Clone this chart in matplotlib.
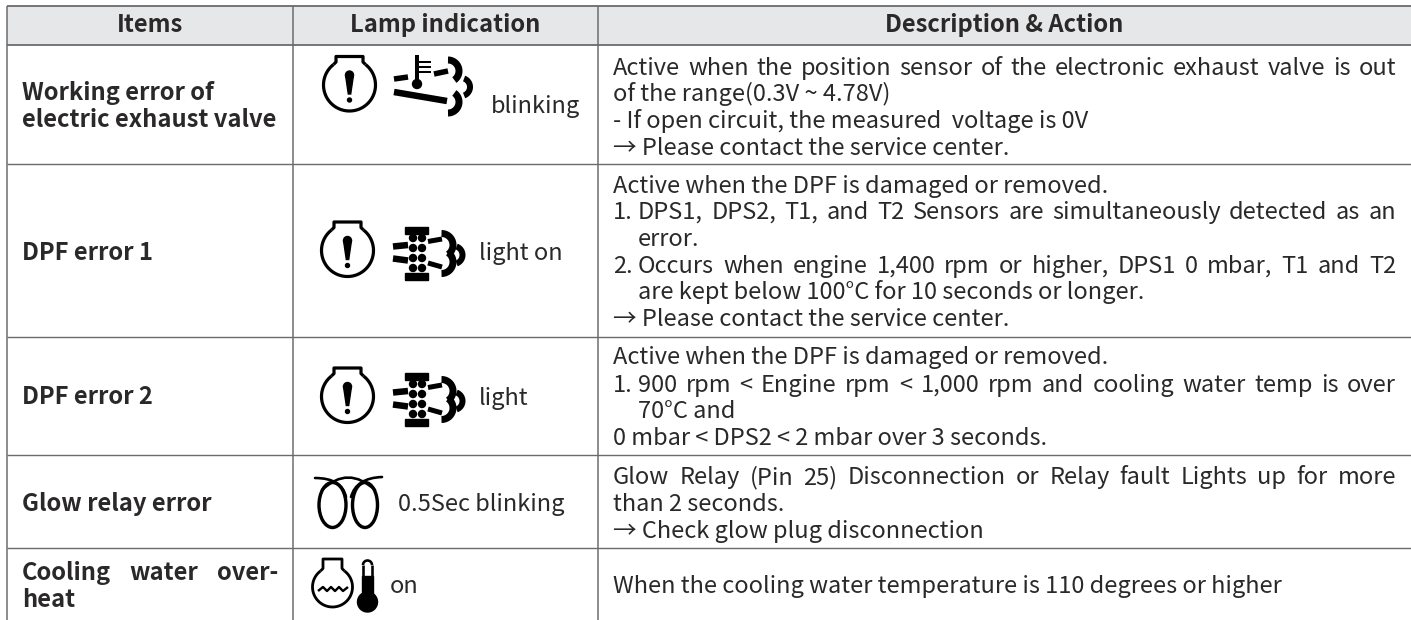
import numpy as np
import matplotlib
matplotlib.use("Agg")
import matplotlib.pyplot as plt
from matplotlib.patches import Rectangle, Circle, Ellipse, PathPatch
from matplotlib.path import Path

plt.rcParams['font.family'] = ['Noto Sans CJK KR', 'DejaVu Sans']

HEADERS = ["Items", "Lamp indication", "Description & Action"]
ITEMS = [("Working error of", 100), ("electric exhaust valve", 127), ("DPF error 1", 260),
         ("DPF error 2", 404), ("Glow relay error", 511), ("heat", 607)]
LAMP = [("blinking", 491, 113), ("light on", 479, 260), ("light", 479, 405),
        ("0.5Sec blinking", 398, 511), ("on", 390, 593)]
DESC = [
    ("Active when the position sensor of the electronic exhaust valve is out", True, 75, None, False),
    ("of the range(0.3V ~ 4.78V)", False, 101, None, False),
    ("- If open circuit, the measured  voltage is 0V", False, 128, None, False),
    ("→ Please contact the service center.", False, 155, None, False),
    ("Active when the DPF is damaged or removed.", False, 193, None, False),
    ("DPS1, DPS2, T1, and T2 Sensors are simultaneously detected as an", True, 219, "1.", False),
    ("error.", False, 246, None, True),
    ("Occurs when engine 1,400 rpm or higher, DPS1 0 mbar, T1 and T2", True, 273, "2.", False),
    ("are kept below 100°C for 10 seconds or longer.", False, 299, None, True),
    ("→ Please contact the service center.", False, 326, None, False),
    ("Active when the DPF is damaged or removed.", False, 364, None, False),
    ("900 rpm < Engine rpm < 1,000 rpm and cooling water temp is over", True, 392, "1.", False),
    ("70°C and", False, 418, None, True),
    ("0 mbar < DPS2 < 2 mbar over 3 seconds.", False, 445, None, False),
    ("Glow Relay (Pin 25) Disconnection or Relay fault Lights up for more", True, 484, None, False),
    ("than 2 seconds.", False, 511, None, False),
    ("→ Check glow plug disconnection", False, 538, None, False),
    ("When the cooling water temperature is 110 degrees or higher", False, 593, None, False),
]
COL_X = [7, 293, 597.5]
ROW_Y = [5.5, 44.5, 163.5, 336.5, 455, 548]

W, H = 1411, 620
INK = "#2a2829"
LINE = "#6a6b6d"
HEAD = "#e6e7e8"
FS = 17.0
FSB = 17.1

fig = plt.figure(figsize=(W / 100, H / 100), dpi=100)
ax = fig.add_axes([0, 0, 1, 1])
ax.set_xlim(0, W)
ax.set_ylim(H, 0)
ax.axis("off")
rend = fig.canvas.get_renderer()


def txt(x, y, s, **kw):
    kw.setdefault("fontsize", FS)
    kw.setdefault("color", INK)
    return ax.text(x, y, s, va="baseline", **kw)


def justified(x0, x1, y, s, **kw):
    words = s.split()
    ts = [txt(x0, y, w, **kw) for w in words]
    widths = [t.get_window_extent(rend).width for t in ts]
    gap = (x1 - x0 - sum(widths)) / (len(words) - 1)
    x = x0
    for t, w in zip(ts, widths):
        t.set_x(x)
        x += w + gap


def stroke(xs, ys, w, color="black", cap="butt"):
    ax.plot(xs, ys, color=color, lw=w * 0.72, solid_capstyle=cap, solid_joinstyle="round")


def arc(cx, cy, r, a0, a1, w):
    t = np.radians(np.linspace(a0, a1, 60))
    stroke(cx + r * np.cos(t), cy + r * np.sin(t), w)


def bulb(cx, cy, r, nw, top, w):
    """Round lamp body with a straight neck on top."""
    sx = nw + 2.5
    sy = np.sqrt(r * r - sx * sx)
    a = np.degrees(np.arctan2(sy, sx))
    arc(cx, cy, r, -a, 180 + a, w)
    stroke([cx - sx, cx - nw, cx - nw, cx + nw, cx + nw, cx + sx],
           [cy - sy, cy - sy - 2.5, top, top, cy - sy - 2.5, cy - sy], w)


def engine(cx, cy):
    bulb(cx, cy, 26, 13.5, cy - 28.5, 3.2)
    ax.fill([cx - 4, cx + 4, cx + 1.2, cx - 1.2], [cy - 10, cy - 10, cy + 9, cy + 9], color="black", zorder=3)
    ax.add_patch(Circle((cx, cy - 10), 4, color="black", zorder=3))
    ax.add_patch(Circle((cx, cy + 15), 2, color="black", zorder=3))


def clouds(c1, c2, c3, r1, r2, w1, w2):
    arc(c1[0], c1[1], r1, -90, 55, w1)
    arc(c2[0], c2[1], r2, -70, 70, w2)
    arc(c3[0], c3[1], r1, -55, 90, w1)


def exhaust_temp():
    stroke([394, 408], [79, 77], 5.5)
    stroke([434, 448], [74, 71], 5.5)
    stroke([394, 447], [92, 101], 6.5)
    stroke([417, 417], [55, 84], 4)
    ax.add_patch(Circle((417, 84), 4.5, color="black"))
    for yy in (62, 67, 72):
        stroke([419, 431], [yy, yy], 2)
    clouds((448, 71), (461, 87), (448, 102), 11, 9, 7, 6)


def dpf(dy):
    ax.add_patch(Rectangle((405, 373 + dy), 23, 7, color="black"))
    ax.add_patch(Rectangle((405, 419 + dy), 23, 7, color="black"))
    for yy in (384, 394, 404, 414):
        for xx in (413, 422):
            ax.add_patch(Circle((xx, yy + dy), 3.5, color="black"))
    stroke([393, 408], [392.5 + dy, 391 + dy], 6.5)
    stroke([393, 408], [404.5 + dy, 406.5 + dy], 6.5)
    stroke([428, 442], [387.5 + dy, 385 + dy], 5)
    stroke([428, 442], [409 + dy, 413 + dy], 5)
    clouds((441.5, 391 + dy), (453.5, 401 + dy), (441.5, 408 + dy), 11.5, 9, 7, 6)


def coil():
    ax.add_patch(Ellipse((332.5, 505), 27, 45, fill=False, ec="black", lw=3.4 * 0.72))
    ax.add_patch(Ellipse((365, 505), 25, 45, fill=False, ec="black", lw=3.4 * 0.72))
    for pts in ([(315, 478), (342, 478), (346, 497)],
                [(382, 477), (356, 478), (351, 497)],
                [(322, 490), (348, 465), (375, 490)]):
        ax.add_patch(PathPatch(Path(pts, [Path.MOVETO, Path.CURVE3, Path.CURVE3]),
                               fill=False, ec="black", lw=2.6 * 0.72, capstyle="round"))


def coolant():
    bulb(332.5, 587, 20, 9.5, 559, 2.8)
    stroke([318, 323, 327, 331, 335, 339, 343, 348], [591, 587, 591, 587, 591, 587, 591, 587], 2.4)
    ax.add_patch(Rectangle((362, 576), 11, 20, color="black"))
    ax.add_patch(Circle((367.5, 602), 10, color="black"))
    stroke([363, 363], [596, 565], 2.6)
    stroke([372, 372], [596, 565], 2.6)
    arc(367.5, 565, 4.5, 180, 360, 2.6)


ax.add_patch(Rectangle((COL_X[0], ROW_Y[0]), W - COL_X[0], ROW_Y[1] - ROW_Y[0], fc=HEAD, ec="none", zorder=0))
for i, y in enumerate(ROW_Y):
    ax.plot([COL_X[0], W], [y, y], color=LINE, lw=(1.8 if i < 2 else 1.4) * 0.72, zorder=1, solid_capstyle="butt")
for x in COL_X:
    ax.plot([x, x], [ROW_Y[0], H], color=LINE, lw=1.5 * 0.72, zorder=1, solid_capstyle="butt")

for s, xc in zip(HEADERS, (150, 445.5, 1004.5)):
    txt(xc, 32, s, ha="center", fontweight="bold", fontsize=FSB)

for s, y in ITEMS:
    txt(22, y, s, fontweight="bold", fontsize=FSB)
justified(22, 278, 580, "Cooling water over-", fontweight="bold", fontsize=FSB)

for s, x, y in LAMP:
    txt(x, y, s)

X0, XI, X1 = 613, 638, 1396
for s, just, y, prefix, indent in DESC:
    x = XI if (prefix or indent) else X0
    if prefix:
        txt(X0, y, prefix)
    if just:
        justified(x, X1, y, s)
    else:
        txt(x, y, s)

engine(349.5, 85)
exhaust_temp()
engine(347.5, 250.5)
dpf(-146)
engine(347.5, 396.5)
dpf(0)
coil()
coolant()

fig.savefig("out.png", dpi=100)
